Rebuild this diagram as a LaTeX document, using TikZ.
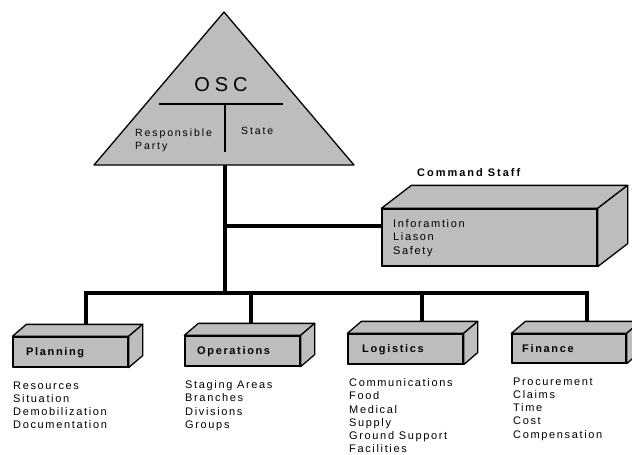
\documentclass[tikz,border=0pt]{standalone}
\usepackage{fontspec}
\usetikzlibrary{calc}
\newfontfamily\lsf[LetterSpace=15]{Liberation Sans}
\newfontfamily\wsf[LetterSpace=18]{Liberation Sans}
\newfontfamily\osf[LetterSpace=25]{Liberation Sans}
\definecolor{boxgray}{gray}{0.74}
\tikzset{
  face/.style={draw=black, line width=1.3pt, fill=boxgray, line join=round},
  frontface/.style={face, rectangle, inner sep=0pt, minimum width=#1},
  conn/.style={line width=3.6pt, line join=miter},
  thin line/.style={line width=2pt},
  lbl/.style={inner sep=0pt, anchor=west, font={\lsf\bfseries\fontsize{11}{13}\selectfont}},
  lst/.style={inner sep=0pt, anchor=north west, align=left, font={\lsf\fontsize{11}{13.2}\selectfont}},
}
% cuboid: top and right faces behind a front node
\newcommand{\cubefaces}[3]{%
  \draw[face] (#1.north west) -- ++(#2,#3) -- ($(#1.north east)+(#2,#3)$) -- (#1.north east) -- cycle;
  \draw[face] (#1.north east) -- ($(#1.north east)+(#2,#3)$) -- ($(#1.south east)+(#2,#3)$) -- (#1.south east) -- cycle;
}
\begin{document}
\begin{tikzpicture}[x=1pt,y=-1pt]
\useasboundingbox (0,0) rectangle (632,455);
\clip (0,0) rectangle (632,455);

% coordinates of the connector network
\coordinate (tribase) at (225,165);
\coordinate (csj) at (225,226);
\coordinate (busL) at (86,293);
\coordinate (busO) at (251,293);
\coordinate (busLo) at (422,293);
\coordinate (busR) at (587,293);
\coordinate (busM) at (225,293);

% front faces of boxes (named nodes)
\node[frontface=115pt, minimum height=30pt] (pl) at (70.5,352) {};
\node[frontface=115pt, minimum height=30pt] (op) at (242.5,351) {};
\node[frontface=115pt, minimum height=30pt] (lo) at (405.5,349) {};
\node[frontface=114pt, minimum height=29pt] (fi) at (569,348.5) {};
\node[frontface=215pt, minimum height=57pt] (cs) at (489.5,237.5) {};

% connectors (drawn first so boxes cover their ends)
\draw[conn] (tribase) -- (busM);
\draw[conn] (csj) -- (csj -| cs.west);
\draw[conn] (busL |- pl.north) -- (busL) -- (busR) -- (busR |- fi.north);
\draw[conn] (busO) -- (busO |- op.north);
\draw[conn] (busLo) -- (busLo |- lo.north);

% boxes (redraw front faces on top)
\cubefaces{pl}{14}{-12}
\node[frontface=115pt, minimum height=30pt] at (pl) {};
\cubefaces{op}{14}{-12}
\node[frontface=115pt, minimum height=30pt] at (op) {};
\cubefaces{lo}{14}{-12}
\node[frontface=115pt, minimum height=30pt] at (lo) {};
\cubefaces{fi}{14}{-12}
\node[frontface=114pt, minimum height=29pt] at (fi) {};
\cubefaces{cs}{30}{-23}
\node[frontface=215pt, minimum height=57pt] at (cs) {};

% triangle
\coordinate (apex) at (224,12);
\coordinate (tl) at (94,165);
\coordinate (tr) at (354,165);
\draw[face] (apex) -- (tl) -- (tr) -- cycle;
\coordinate (barL) at (159,104);
\coordinate (barR) at (283,104);
\coordinate (barM) at (225,104);
\coordinate (barB) at (225,152);
\draw[thin line] (barL) -- (barR);
\draw[thin line] (barM) -- (barB);

% triangle texts
\node[inner sep=0pt, font={\osf\fontsize{20}{22}\selectfont}] (osc) at (221,85) {OSC};
\node[lst, font={\wsf\fontsize{10.5}{13}\selectfont}] (resp) at (135,128.5) {Responsible\\Party};
\node[lst, font={\wsf\fontsize{10.5}{13}\selectfont}] (state) at (241,126.5) {State};

% command staff
\node[lbl, font={\wsf\bfseries\fontsize{11}{13}\selectfont}] (cstitle) at (417,173) {Command Staff};
\node[lst] (cslist) at (393,219.5) {Inforamtion\\Liason\\Safety};

% box labels
\node[lbl] (plt) at (26,353) {Planning};
\node[lbl] (opt) at (197,352) {Operations};
\node[lbl] (lot) at (362,350) {Logistics};
\node[lbl] (fit) at (522,349) {Finance};

% lists
\node[lst] (pll) at (13,381.5) {Resources\\Situation\\Demobilization\\Documentation};
\node[lst] (opl) at (185,380.5) {Staging Areas\\Branches\\Divisions\\Groups};
\node[lst] (lol) at (349,378.5) {Communications\\Food\\Medical\\Supply\\Ground Support\\Facilities};
\node[lst] (fil) at (513,377.5) {Procurement\\Claims\\Time\\Cost\\Compensation};
\end{tikzpicture}
\end{document}
